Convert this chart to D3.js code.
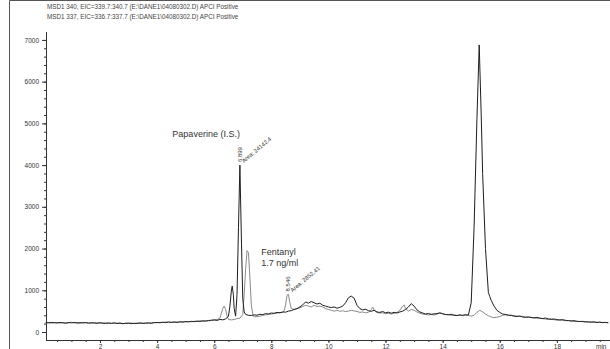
<!DOCTYPE html>
<html><head><meta charset="utf-8">
<script src="https://cdn.jsdelivr.net/npm/d3@7"></script>
<style>
html,body{margin:0;padding:0;background:#fff;}
svg{display:block;font-family:"Liberation Sans",Arial,sans-serif;}
</style></head>
<body>
<script>
// ---- data ----
const headerLines = [
  "MSD1 340, EIC=339.7:340.7 (E:\\DANE1\\04080302.D)  APCI Positive",
  "MSD1 337, EIC=336.7:337.7 (E:\\DANE1\\04080302.D)  APCI Positive"
];
const yTicks = [0,1000,2000,3000,4000,5000,6000,7000];
const xTicks = [2,4,6,8,10,12,14,16,18];
const xUnit = "min";

// trace MSD1 340 (dark)
const timesA = [0.1,0.2,0.3,0.4,0.5,0.6,0.7,0.8,0.9,1.0,1.1,1.2,1.3,1.4,1.5,1.6,1.7,1.8,1.9,2.0,
 2.1,2.2,2.3,2.4,2.5,2.6,2.7,2.8,2.9,3.0,3.1,3.2,3.3,3.4,3.5,3.6,3.7,3.8,3.9,4.0,
 4.1,4.2,4.3,4.4,4.5,4.6,4.7,4.8,4.9,5.0,5.1,5.2,5.3,5.4,5.5,5.6,5.7,5.8,5.9,6.0,
 6.1,6.2,6.3,6.4,6.5,6.55,6.6,6.63,6.67,6.7,6.75,6.8,6.85,6.9,6.95,7.0,7.05,7.1,7.2,7.3,
 7.4,7.5,7.6,7.7,7.8,7.9,8.0,8.1,8.2,8.3,8.4,8.5,8.6,8.7,8.8,8.9,9.0,9.1,9.2,9.3,
 9.4,9.5,9.6,9.7,9.8,9.9,10.0,10.1,10.2,10.3,10.4,10.5,10.6,10.7,10.8,10.9,11.0,11.1,11.2,11.3,
 11.4,11.5,11.6,11.7,11.8,11.9,12.0,12.1,12.2,12.3,12.4,12.5,12.6,12.7,12.8,12.9,13.0,13.1,13.2,13.3,
 13.4,13.5,13.6,13.7,13.8,13.9,14.0,14.1,14.2,14.3,14.4,14.5,14.6,14.7,14.8,14.9,15.0,15.1,15.2,15.28,
 15.35,15.4,15.5,15.6,15.65,15.7,15.8,15.9,16.0,16.1,16.2,16.3,16.4,16.5,16.6,16.7,16.8,16.9,17.0,17.1,
 17.2,17.3,17.4,17.5,17.6,17.7,17.8,17.9,18.0,18.1,18.2,18.3,18.4,18.5,18.6,18.7,18.8,18.9,19.0,19.1,
 19.2,19.3,19.4,19.5,19.6,19.7,19.8];
const valuesA = [225,218,230,222,215,228,220,212,225,219,230,214,222,217,226,210,221,215,208,220,
 212,205,216,209,218,203,211,198,207,214,200,209,204,215,206,212,219,210,224,228,
 220,235,226,240,232,238,230,245,236,250,242,255,248,262,254,268,260,275,282,290,
 278,300,292,310,380,620,980,1100,900,560,380,900,2500,4000,2300,800,480,420,400,395,
 410,402,425,418,440,432,455,448,470,462,480,475,500,512,540,560,600,650,720,690,
 730,700,670,690,640,620,600,585,600,570,590,620,700,820,860,810,640,560,530,545,
 510,495,520,480,470,490,460,475,450,470,455,480,500,540,600,680,620,530,480,455,
 430,445,420,435,440,460,440,420,410,425,400,395,410,400,415,405,700,2500,5100,6880,
 5200,3800,2000,950,850,760,620,520,470,430,420,405,395,380,370,385,360,350,362,345,
 338,350,330,322,335,315,305,312,295,288,296,280,272,265,270,258,250,255,245,240,
 236,242,230,235,226,230,222];

// trace MSD1 337 (grey)
const timesB = [0.1,0.2,0.3,0.4,0.5,0.6,0.7,0.8,0.9,1.0,1.1,1.2,1.3,1.4,1.5,1.6,1.7,1.8,1.9,2.0,
 2.1,2.2,2.3,2.4,2.5,2.6,2.7,2.8,2.9,3.0,3.1,3.2,3.3,3.4,3.5,3.6,3.7,3.8,3.9,4.0,
 4.1,4.2,4.3,4.4,4.5,4.6,4.7,4.8,4.9,5.0,5.1,5.2,5.3,5.4,5.5,5.6,5.7,5.8,5.9,6.0,
 6.1,6.2,6.25,6.3,6.35,6.4,6.45,6.5,6.6,6.7,6.8,6.9,7.0,7.05,7.1,7.15,7.2,7.25,7.3,7.35,
 7.4,7.5,7.6,7.7,7.8,7.9,8.0,8.1,8.2,8.3,8.4,8.45,8.5,8.55,8.6,8.65,8.7,8.8,8.9,9.0,
 9.1,9.2,9.3,9.4,9.5,9.6,9.7,9.8,9.9,10.0,10.1,10.2,10.3,10.4,10.5,10.6,10.7,10.8,10.9,11.0,
 11.1,11.2,11.3,11.4,11.5,11.55,11.6,11.7,11.8,11.9,12.0,12.1,12.2,12.3,12.4,12.5,12.6,12.65,12.7,12.8,
 12.9,13.0,13.1,13.2,13.3,13.4,13.5,13.6,13.7,13.8,13.9,14.0,14.1,14.2,14.3,14.4,14.5,14.6,14.7,14.8,
 14.9,15.0,15.1,15.2,15.3,15.4,15.5,15.6,15.7,15.8,15.9,16.0,16.1,16.2,16.3,16.4,16.5,16.6,16.7,16.8,
 16.9,17.0,17.1,17.2,17.3,17.4,17.5,17.6,17.7,17.8,17.9,18.0,18.1,18.2,18.3,18.4,18.5,18.6,18.7,18.8,
 18.9,19.0,19.1,19.2,19.3,19.4,19.5,19.6,19.7,19.8];
const valuesB = [215,228,212,224,230,216,226,210,222,232,218,225,212,228,219,224,210,226,215,221,
 208,219,212,204,215,208,217,202,212,206,216,203,211,219,208,215,206,218,226,222,
 232,225,238,230,228,242,235,240,248,243,252,246,258,250,264,258,270,266,278,285,
 300,330,450,560,620,540,380,300,290,300,320,330,420,900,1500,1950,1900,1300,650,420,
 360,370,380,395,410,420,430,440,455,460,470,520,650,880,900,700,560,540,560,580,
 610,640,620,600,640,610,620,600,560,540,520,500,520,495,510,490,500,520,505,490,
 470,480,460,470,540,600,520,470,455,460,440,450,430,445,470,520,620,650,560,500,
 540,520,480,450,430,420,410,425,405,430,450,430,415,420,400,410,395,405,390,400,
 395,380,400,470,520,480,430,390,360,345,355,370,400,410,395,405,390,380,370,375,
 360,350,355,340,330,335,318,310,300,305,292,285,290,278,270,275,262,258,250,255,
 245,240,246,235,238,230,234,225,228,220];

// peak annotations
const peakLabels = [
  {name:"Papaverine (I.S.)", line2:null, rt:"6.899", area:"Area: 24142.4", t:6.9, v:4000},
  {name:"Fentanyl", line2:"1.7 ng/ml", rt:"8.546", area:"Area: 2852.41", t:8.6, v:900}
];

// ---- drawing ----
const W = 610, H = 349;
const svg = d3.select("body").append("svg").attr("width", W).attr("height", H);

const x = d3.scaleLinear().domain([0.11, 19.86]).range([46, 610]);
const y = d3.scaleLinear().domain([-192, 7190]).range([340, 32]);

const axisColor = "#333";
const textColor = "#333";
const fmt = d3.format("d");

// frame
svg.append("path").attr("d", "M9.5,349 V0.5 H610")
  .attr("fill","none").attr("stroke","#555").attr("stroke-width",1);

// header
svg.selectAll("text.hdr").data(headerLines).join("text")
  .attr("class","hdr")
  .attr("x", 47).attr("y", (d,i)=>9 + i*10)
  .attr("font-size","6.3px").attr("fill","#444").text(d=>d);

// y axis
const gy = svg.append("g").attr("transform","translate(46,0)");
gy.call(d3.axisLeft(y).tickValues(d3.range(0,7001,200)).tickSize(2).tickFormat(""));
gy.call(g=>g.selectAll(".domain").remove());
const gy2 = svg.append("g").attr("transform","translate(46,0)");
gy2.call(d3.axisLeft(y).tickValues(yTicks).tickSize(4).tickPadding(3).tickFormat(fmt));
gy2.select(".domain").attr("d", `M0.5,${y.range()[1]}V${y.range()[0]}`);
[gy,gy2].forEach(g=>{
  g.selectAll("line").attr("stroke",axisColor);
  g.selectAll("path").attr("stroke",axisColor);
  g.selectAll("text").attr("font-size","6.5px").attr("fill",textColor).attr("font-family","Liberation Sans, Arial, sans-serif");
});

// x axis
const gx = svg.append("g").attr("transform","translate(0,340)");
gx.call(d3.axisBottom(x).tickValues(d3.range(0.5,20,0.5)).tickSize(2).tickFormat(""));
gx.call(g=>g.selectAll(".domain").remove());
const gx2 = svg.append("g").attr("transform","translate(0,340)");
gx2.call(d3.axisBottom(x).tickValues(xTicks).tickSize(3).tickPadding(1).tickFormat(fmt));
gx2.select(".domain").attr("d", `M46,0.5H610`);
[gx,gx2].forEach(g=>{
  g.selectAll("line").attr("stroke",axisColor);
  g.selectAll("path").attr("stroke",axisColor);
  g.selectAll("text").attr("font-size","6.5px").attr("fill",textColor).attr("font-family","Liberation Sans, Arial, sans-serif");
});
svg.append("text").attr("x", 596).attr("y", 348.5).attr("font-size","6.5px")
  .attr("fill",textColor).text(xUnit);

// traces
const line = d3.line().x(d=>x(d[0])).y(d=>y(d[1]));
const dataA = timesA.map((t,i)=>[t, valuesA[i]]);
const dataB = timesB.map((t,i)=>[t, valuesB[i]]);
svg.append("path").datum(dataB).attr("d", line)
  .attr("fill","none").attr("stroke","#8a8a8a").attr("stroke-width",1);
svg.append("path").datum(dataA).attr("d", line)
  .attr("fill","none").attr("stroke","#1e1e1e").attr("stroke-width",1);

// annotations
peakLabels.forEach((p,i)=>{
  const px = x(p.t), py = y(p.v);
  svg.append("text")
    .attr("transform", `translate(${px+2},${py-3}) rotate(-90)`)
    .attr("font-size","6px").attr("fill",textColor).text(p.rt);
  svg.append("text")
    .attr("transform", `translate(${px+4},${py-2}) rotate(-40)`)
    .attr("font-size","5.8px").attr("fill",textColor).text(p.area);
});
// compound names
const pap = peakLabels[0];
svg.append("text").attr("x", x(pap.t)).attr("y", y(pap.v) - 28)
  .attr("text-anchor","end").attr("font-size","9px").attr("fill",textColor).text(pap.name);
const fen = peakLabels[1];
svg.append("text").attr("x", x(7.65)).attr("y", y(2000)+6)
  .attr("font-size","9px").attr("fill",textColor).text(fen.name);
svg.append("text").attr("x", x(7.65)).attr("y", y(2000)+17)
  .attr("font-size","9px").attr("fill",textColor).text(fen.line2);
</script>
</body></html>
